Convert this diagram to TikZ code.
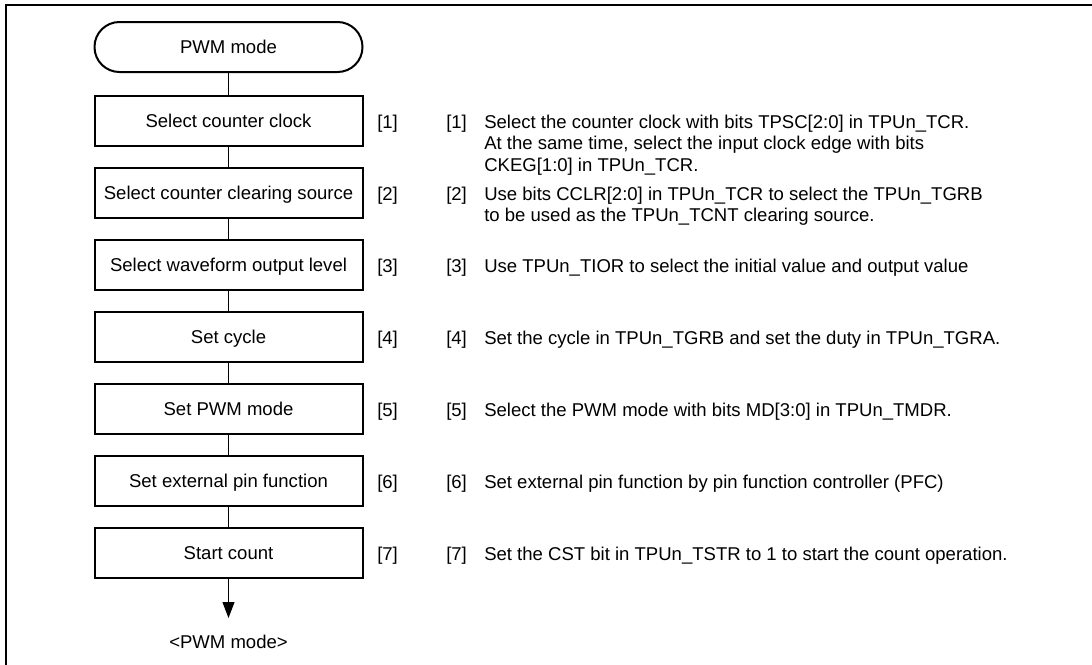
\documentclass[tikz,border=0pt]{standalone}
\usepackage{fontspec}
\setmainfont{Liberation Sans}
\usetikzlibrary{arrows.meta}
\begin{document}
\begin{tikzpicture}[x=0.75pt,y=-0.75pt,
  every node/.style={font=\fontsize{13.9}{16.2}\selectfont},
  stepbox/.style={draw, line width=1.5pt, minimum width=201pt, minimum height=37.5pt, inner sep=0pt, text height=10pt, text depth=0pt},
  term/.style={stepbox, rounded corners=18.7pt},
  conn/.style={line width=0.8pt},
  num/.style={anchor=base west, inner sep=0pt},
  desc/.style={anchor=base west, inner sep=0pt},
  frame/.style={line width=1.6pt}]
\useasboundingbox (0,0) rectangle (1092,664);
\clip (0,0) rectangle (1092,664);
\coordinate (fa) at (6,700);
\coordinate (fb) at (6,5);
\coordinate (fc) at (1100,5);
\draw[frame] (fa) -- (fb) -- (fc);

\node[term] (t0) at (228.5,47) {PWM mode};
\node[stepbox] (s1) at (228.5,120.5) {Select counter clock};
\node[stepbox] (s2) at (228.5,192.5) {Select counter clearing source};
\node[stepbox] (s3) at (228.5,264.5) {Select waveform output level};
\node[stepbox] (s4) at (228.5,336.5) {Set cycle};
\node[stepbox] (s5) at (228.5,408.5) {Set PWM mode};
\node[stepbox] (s6) at (228.5,480.5) {Set external pin function};
\node[stepbox] (s7) at (228.5,552.5) {Start count};
\coordinate (tip) at (228.5,618);
\node (endlbl) at (228.5,642) {<PWM mode>};

\draw[conn] (t0.south) -- (s1.north);
\draw[conn] (s1.south) -- (s2.north);
\draw[conn] (s2.south) -- (s3.north);
\draw[conn] (s3.south) -- (s4.north);
\draw[conn] (s4.south) -- (s5.north);
\draw[conn] (s5.south) -- (s6.north);
\draw[conn] (s6.south) -- (s7.north);
\draw[conn,-{Triangle[length=12pt,width=9pt]}] (s7.south) -- (tip);

\node[num] (n1) at (377,128) {[1]};
\node[num] (n2) at (377,200) {[2]};
\node[num] (n3) at (377,272) {[3]};
\node[num] (n4) at (377,344) {[4]};
\node[num] (n5) at (377,416) {[5]};
\node[num] (n6) at (377,488) {[6]};
\node[num] (n7) at (377,560) {[7]};

\node[num] (m1) at (446,128) {[1]};
\node[num] (m2) at (446,200) {[2]};
\node[num] (m3) at (446,272) {[3]};
\node[num] (m4) at (446,344) {[4]};
\node[num] (m5) at (446,416) {[5]};
\node[num] (m6) at (446,488) {[6]};
\node[num] (m7) at (446,560) {[7]};

\node[desc] (d1) at (484,128) {\begin{tabular}[t]{@{}l@{}}Select the counter clock with bits TPSC[2:0] in TPUn\_TCR.\\At the same time, select the input clock edge with bits\\CKEG[1:0] in TPUn\_TCR.\end{tabular}};
\node[desc] (d2) at (484,200) {\begin{tabular}[t]{@{}l@{}}Use bits CCLR[2:0] in TPUn\_TCR to select the TPUn\_TGRB\\to be used as the TPUn\_TCNT clearing source.\end{tabular}};
\node[desc] (d3) at (484,272) {Use TPUn\_TIOR to select the initial value and output value};
\node[desc] (d4) at (484,344) {Set the cycle in TPUn\_TGRB and set the duty in TPUn\_TGRA.};
\node[desc] (d5) at (484,416) {Select the PWM mode with bits MD[3:0] in TPUn\_TMDR.};
\node[desc] (d6) at (484,488) {Set external pin function by pin function controller (PFC)};
\node[desc] (d7) at (484,560) {Set the CST bit in TPUn\_TSTR to 1 to start the count operation.};
\end{tikzpicture}
\end{document}
